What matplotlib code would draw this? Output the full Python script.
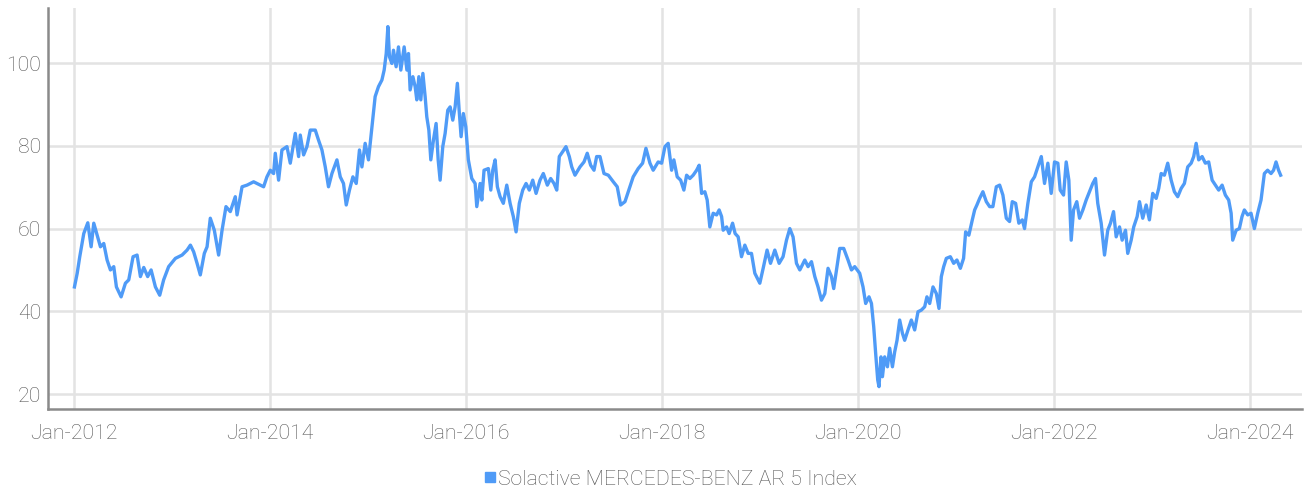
import matplotlib
matplotlib.use("Agg")
import matplotlib.pyplot as plt
from matplotlib.lines import Line2D
from matplotlib import font_manager
import pandas as pd

# ---- data (years elapsed since 2012-01-01, index level) ----
years_since_2012 = [
    0.005, 0.033, 0.059, 0.100, 0.141, 0.175, 0.202, 0.236, 0.270, 0.304,
    0.338, 0.372, 0.406, 0.433, 0.481, 0.525, 0.559, 0.603, 0.644, 0.678,
    0.712, 0.752, 0.787, 0.831, 0.875, 0.915, 0.966, 1.035, 1.103, 1.154,
    1.188, 1.221, 1.256, 1.289, 1.330, 1.358, 1.391, 1.432, 1.476, 1.511,
    1.551, 1.595, 1.646, 1.664, 1.715, 1.766, 1.833, 1.935, 1.969, 2.003,
    2.037, 2.054, 2.088, 2.122, 2.173, 2.207, 2.258, 2.292, 2.309, 2.343,
    2.377, 2.411, 2.462, 2.495, 2.530, 2.564, 2.597, 2.632, 2.683, 2.717,
    2.750, 2.778, 2.811, 2.846, 2.880, 2.913, 2.938, 2.971, 3.005, 3.040,
    3.073, 3.107, 3.142, 3.165, 3.186, 3.203, 3.219, 3.244, 3.260, 3.287,
    3.311, 3.335, 3.369, 3.397, 3.413, 3.430, 3.458, 3.481, 3.498, 3.519,
    3.539, 3.560, 3.583, 3.600, 3.621, 3.641, 3.668, 3.695, 3.716, 3.736,
    3.763, 3.787, 3.814, 3.838, 3.865, 3.889, 3.912, 3.930, 3.950, 3.973,
    3.998, 4.024, 4.059, 4.093, 4.110, 4.144, 4.161, 4.184, 4.228, 4.253,
    4.273, 4.297, 4.320, 4.348, 4.381, 4.416, 4.450, 4.483, 4.511, 4.544,
    4.579, 4.613, 4.646, 4.681, 4.715, 4.755, 4.789, 4.830, 4.864, 4.898,
    4.926, 4.952, 4.987, 5.020, 5.054, 5.079, 5.112, 5.163, 5.204, 5.237,
    5.272, 5.306, 5.333, 5.367, 5.408, 5.452, 5.503, 5.543, 5.578, 5.622,
    5.673, 5.706, 5.757, 5.802, 5.836, 5.877, 5.910, 5.961, 5.996, 6.030,
    6.063, 6.098, 6.121, 6.155, 6.190, 6.223, 6.251, 6.284, 6.318, 6.353,
    6.379, 6.404, 6.437, 6.461, 6.488, 6.522, 6.557, 6.583, 6.608, 6.624,
    6.659, 6.685, 6.720, 6.746, 6.777, 6.811, 6.845, 6.879, 6.913, 6.947,
    6.998, 7.032, 7.072, 7.107, 7.151, 7.195, 7.235, 7.270, 7.304, 7.337,
    7.372, 7.406, 7.457, 7.490, 7.525, 7.559, 7.592, 7.627, 7.661, 7.694,
    7.729, 7.752, 7.780, 7.813, 7.854, 7.898, 7.933, 7.966, 8.017, 8.051,
    8.078, 8.112, 8.137, 8.160, 8.180, 8.201, 8.214, 8.234, 8.249, 8.272,
    8.300, 8.323, 8.351, 8.374, 8.398, 8.425, 8.453, 8.476, 8.510, 8.544,
    8.578, 8.612, 8.646, 8.680, 8.703, 8.731, 8.765, 8.799, 8.826, 8.850,
    8.874, 8.901, 8.942, 8.976, 9.009, 9.044, 9.077, 9.098, 9.131, 9.166,
    9.190, 9.213, 9.241, 9.274, 9.309, 9.343, 9.376, 9.411, 9.445, 9.478,
    9.513, 9.546, 9.574, 9.608, 9.641, 9.676, 9.699, 9.733, 9.768, 9.801,
    9.835, 9.870, 9.903, 9.937, 9.971, 10.005, 10.039, 10.063, 10.097, 10.124,
    10.151, 10.175, 10.199, 10.232, 10.260, 10.294, 10.328, 10.362, 10.395, 10.423,
    10.446, 10.481, 10.515, 10.548, 10.576, 10.607, 10.634, 10.668, 10.695, 10.729,
    10.752, 10.787, 10.813, 10.848, 10.872, 10.905, 10.940, 10.973, 11.007, 11.042,
    11.068, 11.093, 11.126, 11.160, 11.195, 11.228, 11.262, 11.297, 11.330, 11.364,
    11.399, 11.425, 11.450, 11.476, 11.511, 11.544, 11.578, 11.613, 11.646, 11.680,
    11.715, 11.748, 11.782, 11.807, 11.823, 11.858, 11.891, 11.918, 11.942, 11.976,
    12.010, 12.044, 12.078, 12.112, 12.146, 12.179, 12.214, 12.240, 12.265, 12.291,
    12.312,
]
index_values = [
    45.9, 49.2, 53.2, 58.8, 61.4, 55.6, 61.3, 58.4, 55.6, 56.4,
    52.4, 50.0, 50.8, 45.9, 43.5, 46.8, 47.6, 53.2, 53.6, 48.4,
    50.6, 48.4, 50.0, 45.9, 43.9, 47.6, 50.8, 52.8, 53.6, 54.8,
    56.0, 54.4, 51.6, 48.8, 54.0, 55.6, 62.5, 59.6, 53.6, 59.6,
    65.3, 64.1, 67.7, 63.3, 70.1, 70.5, 71.3, 70.1, 72.5, 74.1,
    73.3, 78.2, 71.7, 79.0, 79.8, 75.8, 83.0, 77.4, 82.6, 77.8,
    79.8, 83.8, 83.8, 81.4, 79.0, 74.9, 70.1, 73.3, 76.6, 72.5,
    70.9, 65.7, 69.3, 72.5, 70.9, 79.0, 74.9, 80.6, 76.6, 84.6,
    91.9, 94.3, 95.9, 98.3, 102.3, 108.8, 101.5, 99.9, 103.1, 99.1,
    103.9, 98.3, 103.9, 98.3, 102.3, 93.5, 96.7, 94.3, 91.1, 96.7,
    91.1, 97.5, 91.9, 87.0, 83.8, 76.6, 81.4, 85.4, 76.6, 71.7,
    79.8, 83.0, 88.6, 89.4, 86.2, 89.4, 95.1, 88.6, 82.2, 87.8,
    84.6, 76.6, 72.1, 70.9, 65.3, 70.9, 66.9, 74.1, 74.5, 69.3,
    74.1, 76.6, 70.1, 67.7, 66.1, 70.5, 66.1, 62.9, 59.2, 66.1,
    69.3, 70.9, 69.3, 71.7, 68.5, 71.7, 73.3, 70.5, 72.1, 70.9,
    69.3, 77.4, 78.6, 79.8, 77.4, 74.9, 72.9, 74.9, 76.1, 78.2,
    75.3, 74.1, 77.4, 77.4, 73.3, 72.9, 71.3, 70.1, 65.7, 66.5,
    70.1, 72.5, 74.5, 75.8, 79.4, 75.8, 74.1, 76.1, 75.8, 79.8,
    80.6, 74.1, 76.6, 72.5, 71.7, 69.3, 72.9, 72.1, 72.9, 74.1,
    75.3, 68.5, 68.9, 66.9, 60.4, 63.7, 63.3, 64.5, 62.9, 59.6,
    60.4, 58.8, 61.3, 58.8, 58.0, 53.2, 56.0, 54.0, 54.0, 49.2,
    46.8, 50.4, 54.8, 51.6, 54.8, 51.6, 53.2, 57.2, 60.0, 58.0,
    51.6, 50.0, 52.4, 50.8, 52.0, 48.4, 45.9, 42.7, 44.3, 50.4,
    48.4, 45.5, 50.0, 55.2, 55.2, 52.4, 50.0, 50.8, 49.2, 45.9,
    41.9, 43.5, 41.9, 36.3, 29.8, 23.4, 21.8, 29.0, 24.2, 29.0,
    26.6, 31.1, 26.6, 30.2, 33.0, 37.9, 34.7, 33.0, 35.5, 37.9,
    35.5, 39.9, 40.3, 41.1, 43.5, 41.9, 45.9, 44.3, 40.7, 48.4,
    50.8, 52.8, 53.2, 51.6, 52.4, 50.4, 52.8, 59.2, 58.4, 62.1,
    64.5, 65.7, 67.3, 68.9, 66.5, 65.3, 65.3, 70.1, 70.5, 68.1,
    62.5, 61.7, 66.5, 66.1, 61.3, 62.1, 60.0, 66.1, 71.3, 72.5,
    74.9, 77.4, 70.9, 75.8, 68.5, 76.1, 75.8, 69.3, 68.1, 76.1,
    71.7, 57.2, 64.5, 66.5, 62.5, 64.5, 66.9, 68.9, 70.9, 72.1,
    66.1, 61.3, 53.6, 59.6, 61.3, 64.1, 58.0, 60.4, 57.2, 59.6,
    54.0, 57.2, 60.4, 62.9, 66.5, 62.5, 65.7, 62.1, 68.5, 67.3,
    69.7, 73.3, 72.9, 75.8, 71.7, 68.9, 67.7, 69.7, 70.9, 74.9,
    75.8, 77.4, 80.6, 76.6, 77.4, 75.8, 76.1, 71.7, 70.5, 69.3,
    70.5, 68.1, 66.9, 63.7, 57.2, 59.6, 60.0, 62.9, 64.5, 63.3,
    63.7, 60.0, 63.7, 66.9, 73.3, 74.1, 73.3, 74.1, 76.1, 74.1,
    72.9,
]
series_name = "Solactive MERCEDES-BENZ AR 5 Index"
tick_years = [2012, 2014, 2016, 2018, 2020, 2022, 2024]
y_ticks = [20, 40, 60, 80, 100]

# ---- fonts ----
avail = {f.name for f in font_manager.fontManager.ttflist}
fam = [f for f in ["Roboto", "DejaVu Sans"] if f in avail]
plt.rcParams["font.family"] = fam
plt.rcParams["font.weight"] = "light"

base = pd.Timestamp("2012-01-01")
dates = [base + pd.Timedelta(days=t * 365.25) for t in years_since_2012]

fig = plt.figure(figsize=(13.04, 4.90), dpi=100)
ax = fig.add_axes([48 / 1304, 1 - 409 / 490, (1302 - 48) / 1304, (409 - 8) / 490])

line_color = "#4f9bf7"
ax.plot(dates, index_values, color=line_color, lw=2.4, solid_joinstyle="round", zorder=3)

ax.set_xlim(base + pd.Timedelta(days=-0.265 * 365.25), base + pd.Timedelta(days=12.53 * 365.25))
ax.set_ylim(16.4, 113.3)

xt = [pd.Timestamp(f"{y}-01-01") for y in tick_years]
ax.set_xticks(xt)
ax.set_xticklabels([f"Jan-{y}" for y in tick_years])
ax.set_yticks(y_ticks)
ax.set_yticklabels([str(v) for v in y_ticks])

ax.grid(True, color="#e3e3e3", lw=1.8, zorder=0)
ax.set_axisbelow(True)
for s in ["top", "right"]:
    ax.spines[s].set_visible(False)
for s in ["left", "bottom"]:
    ax.spines[s].set_color("#8a8a8a")
    ax.spines[s].set_linewidth(1.8)
ax.tick_params(axis="both", length=0, colors="#555555", labelsize=15.3)
ax.tick_params(axis="x", pad=11)
ax.tick_params(axis="y", pad=5)

handle = Line2D([], [], marker="s", color=line_color, linestyle="none", markersize=7)
fig.legend([handle], [series_name], loc="center", bbox_to_anchor=(669 / 1304, 1 - 479 / 490),
           frameon=False, fontsize=15.3, handletextpad=0.0, labelcolor="#555555",
           handlelength=0.8, borderpad=0)

fig.savefig("out.png", dpi=100, facecolor="white")
